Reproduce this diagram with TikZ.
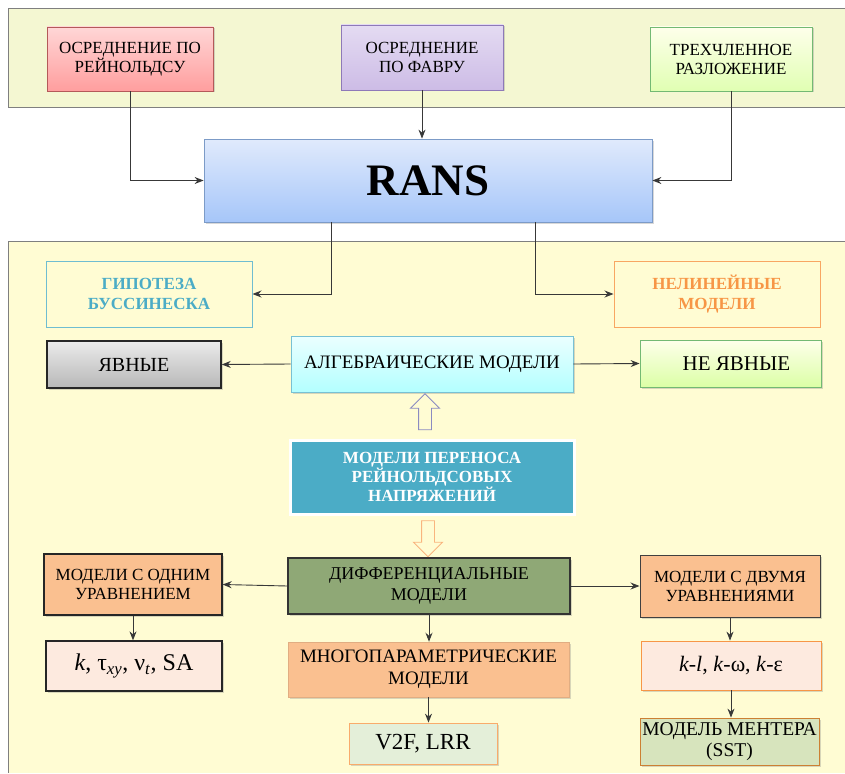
\documentclass[tikz,border=0pt]{standalone}
\usepackage{fontspec}
\setmainfont{Liberation Serif}
\newfontfamily\schemefont{Liberation Serif}
\usetikzlibrary{positioning,shapes,shadows,arrows.meta}

\definecolor{bandtop}{HTML}{F4F7D2}
\definecolor{bandlow}{HTML}{FFFCD3}
\definecolor{bandline}{HTML}{7F7F7F}
\definecolor{teal}{HTML}{4BACC6}
\definecolor{orangeline}{HTML}{F79646}
\definecolor{peach}{HTML}{FAC090}
\definecolor{lightpeach}{HTML}{FDEADF}
\definecolor{olive}{HTML}{8FA876}
\definecolor{ranstop}{HTML}{E0EAFC}
\definecolor{ransbot}{HTML}{A6C6F9}
\definecolor{ransline}{HTML}{7C9BC7}
\definecolor{favretop}{HTML}{E4DBF2}
\definecolor{favrebot}{HTML}{CDBCE6}
\definecolor{favreline}{HTML}{8E79B8}
\definecolor{v2fgreen}{HTML}{E4EFD9}
\definecolor{mentergreen}{HTML}{D7E4BD}

\begin{document}
\begin{tikzpicture}[x=1pt, y=-1pt,
    every node/.style={align=center, font=\schemefont\fontsize{17}{19}\selectfont},
    box/.style={draw, rectangle, inner sep=2pt, line width=0.8pt,
        drop shadow={opacity=0.3, shadow xshift=1.5pt, shadow yshift=-1.5pt}},
    framebox/.style={draw, rectangle, inner sep=2pt, line width=1pt, font=\schemefont\fontsize{17}{20}\selectfont\bfseries},
    conn/.style={-{Stealth[length=9pt, width=7pt, inset=3pt]}, draw=black!78, line width=0.9pt},
    hollow/.style={single arrow, draw, line width=0.9pt, inner sep=6pt, minimum height=36pt,
        single arrow head extend=8pt, single arrow head indent=0pt, fill=bandlow}]
\useasboundingbox (0,0) rectangle (845,773);
\fill[white] (0,0) rectangle (845,773);

\fill[bandtop] (8,8) rectangle (845,107);
\draw[bandline, line width=0.8pt] (845,8) -- (8,8) -- (8,107) -- (845,107);
\fill[bandlow] (8,241) rectangle (845,773);
\draw[bandline, line width=0.8pt] (845,241) -- (8,241) -- (8,773);

\node[box, minimum width=166pt, minimum height=64pt, draw=red!55!black!65,
    top color=red!16, bottom color=red!38] (rey) at (130,59) {ОСРЕДНЕНИЕ ПО\\РЕЙНОЛЬДСУ};
\node[box, minimum width=162pt, minimum height=65pt, draw=favreline,
    top color=favretop, bottom color=favrebot] (favre) at (422,57.5) {ОСРЕДНЕНИЕ\\ПО ФАВРУ};
\node[box, minimum width=162pt, minimum height=64pt, draw=green!50!black!55,
    top color=green!5!yellow!8, bottom color=green!40!yellow!30] (trio) at (731,59) {ТРЕХЧЛЕННОЕ\\РАЗЛОЖЕНИЕ};
\node[box, minimum width=448pt, minimum height=83pt, draw=ransline,
    top color=ranstop, bottom color=ransbot, font=\schemefont\fontsize{45}{50}\selectfont\bfseries] (rans) at (428,180.5) {RANS};

\node[framebox, minimum width=206pt, minimum height=66pt, draw=teal!80, text=teal] (bous) at (149,294) {ГИПОТЕЗА\\БУССИНЕСКА};
\node[framebox, minimum width=206pt, minimum height=66pt, draw=orangeline!85, text=orangeline] (nonlin) at (717,294) {НЕЛИНЕЙНЫЕ\\МОДЕЛИ};

\node[box, minimum width=174pt, minimum height=47pt, draw=black!85, line width=1.5pt,
    top color=black!8, bottom color=black!28, font=\schemefont\fontsize{20}{22}\selectfont] (expl) at (134,364.5) {ЯВНЫЕ};
\node[box, minimum width=282pt, minimum height=56pt, draw=teal!75,
    top color=cyan!8, bottom color=cyan!30, font=\schemefont\fontsize{19}{21}\selectfont] (alg) at (432,364) {АЛГЕБРАИЧЕСКИЕ МОДЕЛИ};
\node[box, minimum width=181pt, minimum height=47pt, draw=green!50!black!55,
    top color=green!5!yellow!8, bottom color=green!40!yellow!35, font=\schemefont\fontsize{21}{23}\selectfont] (impl) at (730.5,363.5) {\hspace{12pt}НЕ ЯВНЫЕ};

\node[hollow, shape border rotate=90, draw=blue!30!gray!70] (up) at (425,415) {};
\node[box, minimum width=284pt, minimum height=74pt, draw=white, line width=3pt, fill=teal,
    text=white, font=\schemefont\fontsize{17}{19}\selectfont\bfseries] (rst) at (432,477) {МОДЕЛИ ПЕРЕНОСА\\РЕЙНОЛЬДСОВЫХ\\НАПРЯЖЕНИЙ};
\node[hollow, shape border rotate=270, draw=orangeline!70] (down) at (428,535.5) {};

\node[box, minimum width=178pt, minimum height=61pt, draw=black!85, line width=1.3pt, fill=peach] (one) at (133,584.5) {МОДЕЛИ С ОДНИМ\\УРАВНЕНИЕМ};
\node[box, minimum width=282pt, minimum height=56pt, draw=black!80, line width=1.3pt, fill=olive,
    font=\schemefont\fontsize{18}{21}\selectfont] (diff) at (429,586) {ДИФФЕРЕНЦИАЛЬНЫЕ\\МОДЕЛИ};
\node[box, minimum width=180pt, minimum height=62pt, draw=black!75, line width=1pt, fill=peach] (two) at (730,586) {МОДЕЛИ С ДВУМЯ\\УРАВНЕНИЯМИ};

\node[box, minimum width=176pt, minimum height=50pt, draw=black!85, line width=1.3pt, fill=lightpeach,
    font=\schemefont\fontsize{24}{26}\selectfont] (kbox) at (134,666) {\textit{k}, τ\textsubscript{\textit{xy}}, ν\textsubscript{\textit{t}}, SA};
\node[box, minimum width=281pt, minimum height=55pt, draw=peach!90!black, line width=0.5pt, fill=peach,
    font=\schemefont\fontsize{19}{22}\selectfont] (multi) at (428.5,669.5) {МНОГОПАРАМЕТРИЧЕСКИЕ\\МОДЕЛИ};
\node[box, minimum width=180pt, minimum height=49pt, draw=orangeline, fill=lightpeach,
    font=\schemefont\fontsize{22}{24}\selectfont] (kl) at (731,665.5) {\textit{k-l}, \textit{k}-ω, \textit{k}-ε};

\node[box, minimum width=148pt, minimum height=41pt, draw=orangeline!80, fill=v2fgreen,
    font=\schemefont\fontsize{23}{25}\selectfont] (v2f) at (423,743.5) {V2F, LRR};
\node[box, minimum width=179pt, minimum height=47pt, draw=brown!80!orange, fill=mentergreen, inner sep=0pt,
    font=\schemefont\fontsize{19.5}{21}\selectfont] (menter) at (729.5,741.5) {МОДЕЛЬ МЕНТЕРА\\(SST)};

\draw[conn] (rey.south) |- (rans.west);
\draw[conn] (favre.south) -- (favre.south |- rans.north);
\draw[conn] (trio.south) |- (rans.east);
\draw[conn] ([xshift=-97pt]rans.south) |- (bous.east);
\draw[conn] ([xshift=107pt]rans.south) |- (nonlin.west);
\draw[conn] (alg.west) -- (expl.east);
\draw[conn] (alg.east) -- (impl.west);
\draw[conn] (diff.west) -- (one.east);
\draw[conn] (diff.east) -- (two.west);
\draw[conn] (one.south) -- (one.south |- kbox.north);
\draw[conn] (diff.south) -- (diff.south |- multi.north);
\draw[conn] (two.south) -- (two.south |- kl.north);
\draw[conn] (multi.south) -- (multi.south |- v2f.north);
\draw[conn] (kl.south) -- (kl.south |- menter.north);

\end{tikzpicture}
\end{document}
